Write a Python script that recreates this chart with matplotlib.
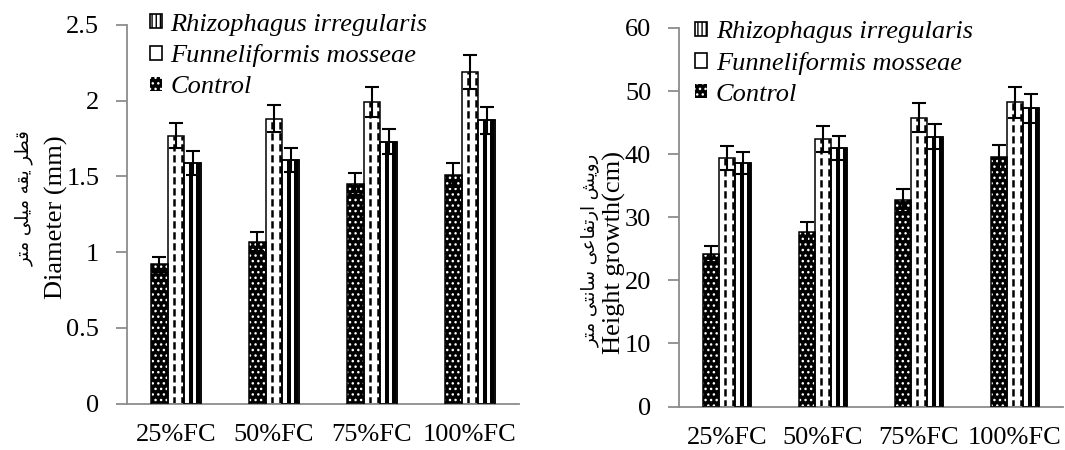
import matplotlib
matplotlib.use('Agg')
import matplotlib.pyplot as plt
import numpy as np
from matplotlib.patches import Rectangle

# ---------------- data ----------------
categories = ['25%FC', '50%FC', '75%FC', '100%FC']
series_names = ['Rhizophagus irregularis', 'Funneliformis mosseae', 'Control']

diam_control = [0.92, 1.07, 1.45, 1.51]
diam_funnel = [1.77, 1.88, 1.99, 2.19]
diam_rhizo = [1.59, 1.61, 1.73, 1.87]
diam_control_err = [0.05, 0.06, 0.07, 0.08]
diam_funnel_err = [0.08, 0.09, 0.10, 0.11]
diam_rhizo_err = [0.08, 0.08, 0.08, 0.09]

height_control = [24.2, 27.7, 32.7, 39.5]
height_funnel = [39.4, 42.4, 45.8, 48.2]
height_rhizo = [38.6, 41.0, 42.8, 47.3]
height_control_err = [1.3, 1.5, 1.8, 2.0]
height_funnel_err = [1.9, 2.1, 2.3, 2.4]
height_rhizo_err = [1.8, 1.9, 2.0, 2.3]

diam_ticks = [0, 0.5, 1, 1.5, 2, 2.5]
diam_ticklabels = ['0', '0.5', '1', '1.5', '2', '2.5']
height_ticks = [0, 10, 20, 30, 40, 50, 60]
height_ticklabels = ['0', '10', '20', '30', '40', '50', '60']

diam_label_en = 'Diameter (mm)'
diam_label_fa = 'قطر یقه میلی متر'
height_label_en = 'Height growth(cm)'
height_label_fa = 'رویش ارتفاعی سانتی متر'

# ---------------- minimal Persian shaping (matplotlib has no text shaping) ----------------
FORMS = {
    'ا': ('\uFE8D', '\uFE8E', None, None),
    'ت': ('\uFE95', '\uFE96', '\uFE97', '\uFE98'),
    'ر': ('\uFEAD', '\uFEAE', None, None),
    'س': ('\uFEB1', '\uFEB2', '\uFEB3', '\uFEB4'),
    'ش': ('\uFEB5', '\uFEB6', '\uFEB7', '\uFEB8'),
    'ط': ('\uFEC1', '\uFEC2', '\uFEC3', '\uFEC4'),
    'ع': ('\uFEC9', '\uFECA', '\uFECB', '\uFECC'),
    'ف': ('\uFED1', '\uFED2', '\uFED3', '\uFED4'),
    'ق': ('\uFED5', '\uFED6', '\uFED7', '\uFED8'),
    'ل': ('\uFEDD', '\uFEDE', '\uFEDF', '\uFEE0'),
    'م': ('\uFEE1', '\uFEE2', '\uFEE3', '\uFEE4'),
    'ن': ('\uFEE5', '\uFEE6', '\uFEE7', '\uFEE8'),
    'ه': ('\uFEE9', '\uFEEA', '\uFEEB', '\uFEEC'),
    'و': ('\uFEED', '\uFEEE', None, None),
    'ی': ('\uFBFC', '\uFBFD', '\uFBFE', '\uFBFF'),
}
RIGHT_ONLY = set('اروزژدذ')


def shape(text):
    chars = list(text)
    out = []
    for i, c in enumerate(chars):
        if c not in FORMS:
            out.append(c)
            continue
        prev = chars[i - 1] if i > 0 else None
        nxt = chars[i + 1] if i + 1 < len(chars) else None
        jp = prev in FORMS and prev not in RIGHT_ONLY
        jn = nxt in FORMS and c not in RIGHT_ONLY
        iso, fin, ini, med = FORMS[c]
        if jp and jn:
            f = med
        elif jp:
            f = fin
        elif jn:
            f = ini
        else:
            f = iso
        out.append(f)
    return ''.join(reversed(out))


# ---------------- style ----------------
plt.rcParams['font.family'] = ['Liberation Serif', 'DejaVu Sans']
plt.rcParams['hatch.linewidth'] = 1.0
FS = 19
GRAY = '#8c8c8c'
W = 1065
H = 450

fig = plt.figure(figsize=(W / 100, H / 100), dpi=100)


def px_rect(x0, ytop, x1, ybot):
    return [x0 / W, 1 - ybot / H, (x1 - x0) / W, (ybot - ytop) / H]


ax1 = fig.add_axes(px_rect(127, 25, 519, 403.5))
ax2 = fig.add_axes(px_rect(679, 28, 1063, 406.5))

bw = 0.17


def draw(ax, ctrl, fun, rhi, ectrl, efun, erhi, ymax, ticks, ticklabels, leg_anchor):
    x = np.arange(len(categories))
    xc, xf, xr = x - bw, x, x + bw
    # control: black with white dots
    ax.bar(xc, ctrl, bw, color='black', edgecolor='white', hatch='...', linewidth=0, zorder=2)
    ax.bar(xc, ctrl, bw, fill=False, edgecolor='black', linewidth=1.1, zorder=3)
    # funneliformis: white with dashed vertical lines
    ax.bar(xf, fun, bw, color='white', edgecolor='black', linewidth=1.1, zorder=2)
    for frac in (0.35, 0.85):
        ax.vlines(xf - bw / 2 + frac * bw, 0, fun, colors='black', linewidth=1.8,
                  linestyles=(0, (2.9, 1.5)), zorder=2.5)
    # rhizophagus: white with wide black vertical stripes
    ax.bar(xr, rhi, bw, color='white', edgecolor='black', linewidth=1.1, zorder=2)
    for frac in (0.41, 0.82):
        ax.vlines(xr - bw / 2 + frac * bw, 0, rhi, colors='black', linewidth=2.9, zorder=2.5)
    ax.bar(xr, rhi, bw, fill=False, edgecolor='black', linewidth=1.1, zorder=3)
    # error bars
    for xx, vv, ee in ((xc, ctrl, ectrl), (xf, fun, efun), (xr, rhi, erhi)):
        ax.errorbar(xx, vv, yerr=ee, fmt='none', ecolor='black', elinewidth=1.5,
                    capsize=5, capthick=1.5, zorder=4)

    ax.set_xlim(-0.5, len(categories) - 0.5)
    ax.set_ylim(0, ymax)
    ax.set_yticks(ticks)
    ax.set_yticklabels(ticklabels)
    ax.set_xticks(x)
    ax.set_xticklabels(categories)
    for s in ('top', 'right'):
        ax.spines[s].set_visible(False)
    for s in ('left', 'bottom'):
        ax.spines[s].set_color(GRAY)
        ax.spines[s].set_linewidth(1.3)
    ax.tick_params(axis='y', direction='out', length=8, width=1.3, color=GRAY,
                   labelsize=FS, pad=12)
    ax.tick_params(axis='x', length=0, labelsize=FS, pad=15)

    handles = [
        Rectangle((0, 0), 1, 1, facecolor='white', edgecolor='black', hatch='||||', linewidth=1.2),
        Rectangle((0, 0), 1, 1, facecolor='white', edgecolor='black', linewidth=1.2),
        Rectangle((0, 0), 1, 1, facecolor='black', edgecolor='white', hatch='...', linewidth=0),
    ]
    leg = ax.legend(handles, series_names, loc='upper left', frameon=False,
                    bbox_to_anchor=leg_anchor, borderpad=0, borderaxespad=0,
                    handlelength=0.45, handleheight=0.45, handletextpad=0.33,
                    labelspacing=0.33, prop={'family': 'Liberation Serif', 'style': 'italic', 'size': FS})
    return leg


draw(ax1, diam_control, diam_funnel, diam_rhizo, diam_control_err, diam_funnel_err,
     diam_rhizo_err, 2.5, diam_ticks, diam_ticklabels, (0.058, 1.03))
draw(ax2, height_control, height_funnel, height_rhizo, height_control_err, height_funnel_err,
     height_rhizo_err, 60, height_ticks, height_ticklabels, (0.042, 1.018))

# axis titles
fig.text(56 / W, 1 - 217 / H, diam_label_en, rotation=90, ha='center', va='center', fontsize=FS)
fig.text(24 / W, 1 - 198 / H, shape(diam_label_fa), rotation=90, ha='center', va='center',
         fontsize=13, family=['DejaVu Sans'])
fig.text(614 / W, 1 - 252 / H, height_label_en, rotation=90, ha='center', va='center', fontsize=FS)
fig.text(590 / W, 1 - 250 / H, shape(height_label_fa), rotation=90, ha='center', va='center',
         fontsize=13, family=['DejaVu Sans'])

fig.savefig('out.png', dpi=100)
